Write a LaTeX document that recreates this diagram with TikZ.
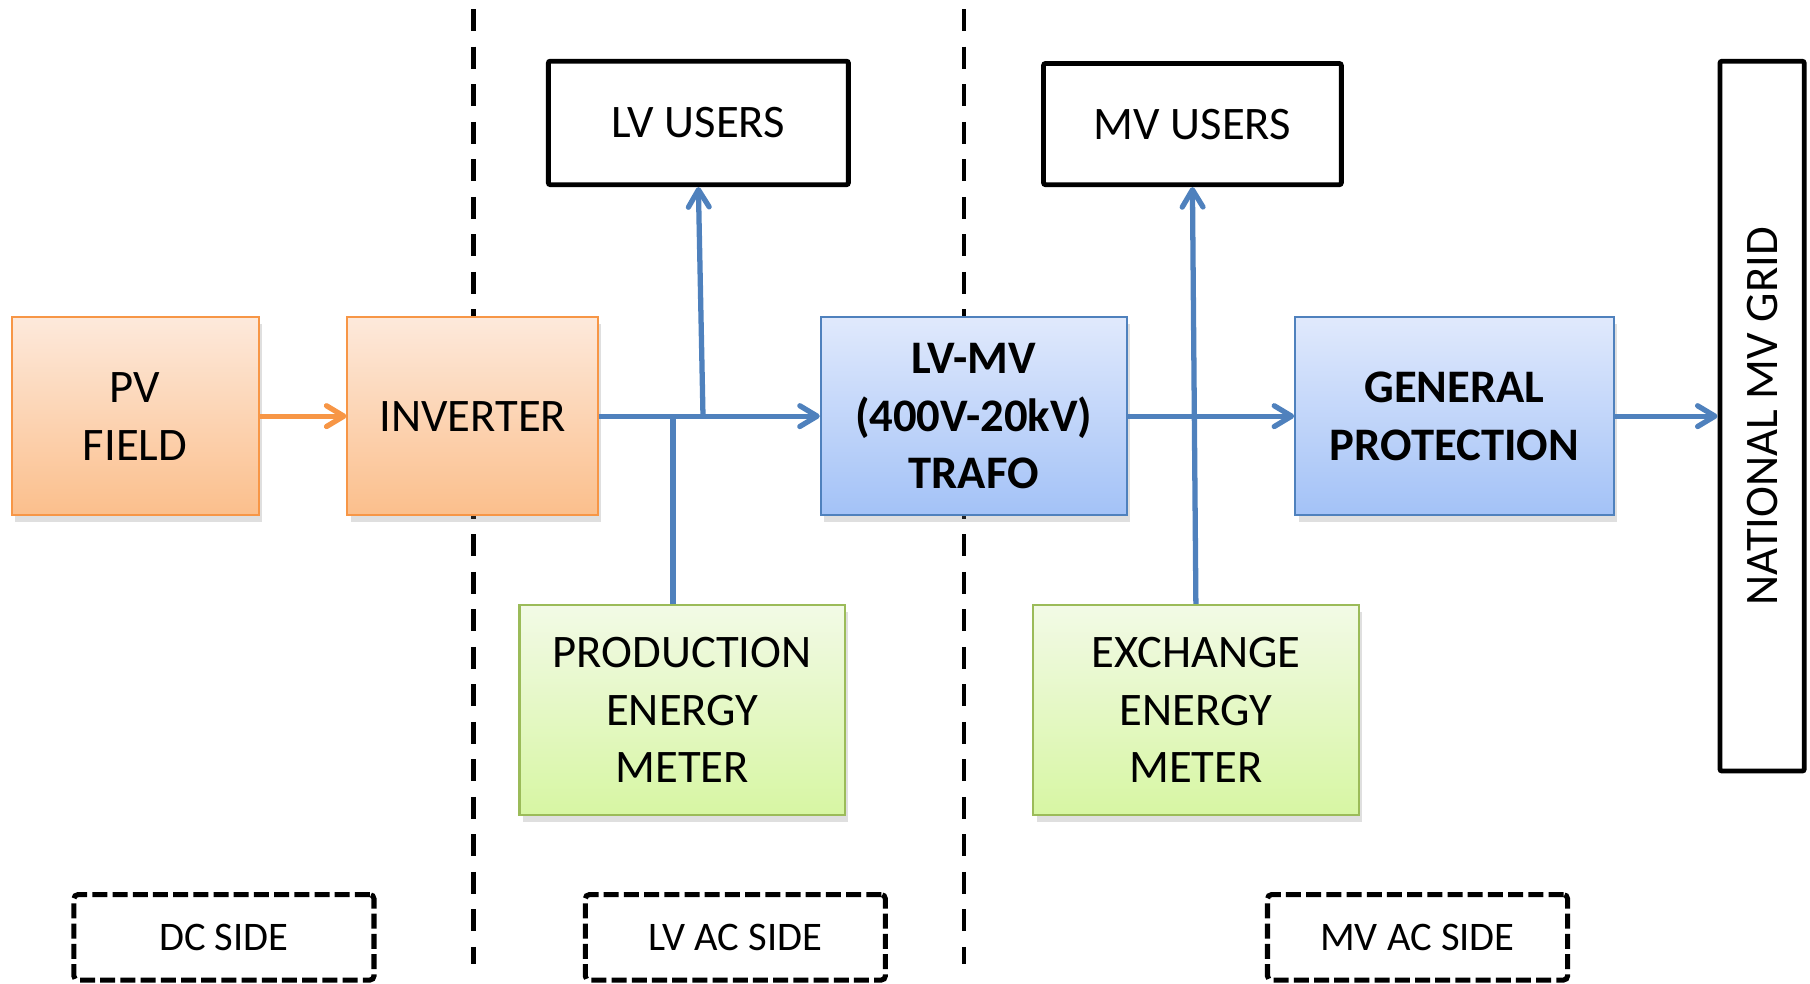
\documentclass[tikz,border=0pt]{standalone}
\usepackage{fontspec}
\setmainfont{Carlito}
\usetikzlibrary{arrows.meta,shadows}
\definecolor{orbord}{HTML}{F79646}
\definecolor{ortop}{HTML}{FDE9DB}
\definecolor{orbot}{HTML}{FBBF8C}
\definecolor{blbord}{HTML}{4F81BD}
\definecolor{bltop}{HTML}{E0E9FC}
\definecolor{blbot}{HTML}{A3C2F7}
\definecolor{grbord}{HTML}{9BBB59}
\definecolor{grtop}{HTML}{F2FAE6}
\definecolor{grbot}{HTML}{D7F6A3}
\definecolor{wirecol}{HTML}{4F81BD}
\tikzset{
  base/.style={align=center, inner sep=0pt, font=\fontsize{23}{28.5}\selectfont},
  shad/.style={drop shadow={shadow xshift=0.6mm, shadow yshift=-1.2mm, opacity=0.25}},
  orbox/.style={base, shad, draw=orbord, line width=1pt, top color=ortop, bottom color=orbot},
  blbox/.style={base, shad, draw=blbord, line width=1pt, top color=bltop, bottom color=blbot, font=\fontsize{23}{28.5}\selectfont\bfseries},
  grbox/.style={base, shad, draw=grbord, line width=1pt, top color=grtop, bottom color=grbot},
  blkbox/.style={base, draw=black, line width=2.4pt, fill=white, rounded corners=1pt},
  sidebox/.style={align=center, inner sep=0pt, draw=black, line width=2.5pt, rounded corners=2pt, dash pattern=on 0.26cm off 0.09cm, font=\fontsize{20}{24}\selectfont, minimum width=5.2cm, minimum height=1.48cm},
  sepline/.style={draw=black, line width=2.2pt, dash pattern=on 0.38cm off 0.27cm},
  wire/.style={draw=wirecol, line width=2.6pt},
  arr/.style={-{Straight Barb[length=3mm,width=3.6mm,round]}}
}
\begin{document}
\begin{tikzpicture}[x=0.02cm,y=-0.02cm]
\useasboundingbox (0,0) rectangle (1568,852);
\draw[sepline] (410,8) -- (410,835);
\draw[sepline] (835,8) -- (835,835);

\node[orbox, minimum width=4.28cm, minimum height=3.42cm] (pv) at (117,360.5) {PV\\FIELD};
\node[orbox, minimum width=4.34cm, minimum height=3.42cm] (inv) at (409.5,360.5) {INVERTER};
\node[blbox, minimum width=5.3cm, minimum height=3.42cm] (trafo) at (843.5,360.5) {LV-MV\\(400V-20kV)\\TRAFO};
\node[blbox, minimum width=5.52cm, minimum height=3.42cm] (gp) at (1260,360.5) {GENERAL\\PROTECTION};
\node[blkbox, rotate=90, minimum width=12.3cm, minimum height=1.46cm] (grid) at (1526.5,360.5) {NATIONAL MV GRID};
\node[blkbox, minimum width=5.2cm, minimum height=2.14cm] (lvu) at (605,106.5) {LV USERS};
\node[blkbox, minimum width=5.16cm, minimum height=2.1cm] (mvu) at (1033,107.5) {MV USERS};
\node[grbox, minimum width=5.64cm, minimum height=3.64cm] (pem) at (591,615) {PRODUCTION\\ENERGY\\METER};
\node[grbox, minimum width=5.64cm, minimum height=3.64cm] (eem) at (1036,615) {EXCHANGE\\ENERGY\\METER};
\node[sidebox] (dc) at (194,812) {DC SIDE};
\node[sidebox] (lvac) at (637,812) {LV AC SIDE};
\node[sidebox] (mvac) at (1228,812) {MV AC SIDE};

\coordinate (j1) at (609,360.5);
\coordinate (j2) at (583,360.5);
\draw[wire, draw=orbord, arr] (pv.east) -- (inv.west);
\draw[wire, arr] (inv.east) -- (trafo.west);
\draw[wire, arr] (j1) -- (lvu.south);
\draw[wire] (j2) -- (j2 |- pem.north);
\draw[wire, arr] (trafo.east) -- (gp.west);
\draw[wire, arr] (eem.north) -- (mvu.south);
\draw[wire, arr] (gp.east) -- (grid.north);
\end{tikzpicture}
\end{document}
